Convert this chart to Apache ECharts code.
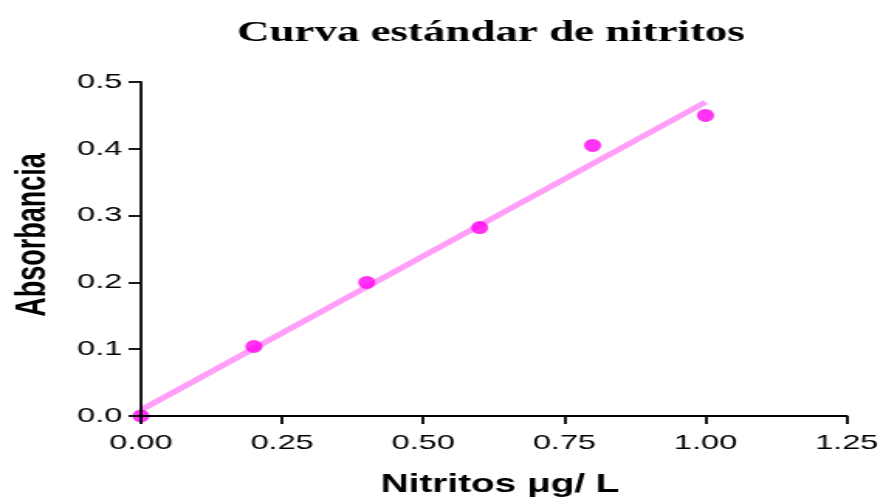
<!DOCTYPE html>
<html>
<head>
<meta charset="utf-8">
<script src="https://cdn.jsdelivr.net/npm/echarts@6/dist/echarts.min.js"></script>
<style>
  html, body { margin: 0; padding: 0; background: #fff; overflow: hidden; }
  #wrap { width: 883px; height: 503px; overflow: hidden; }
  #chart { width: 570px; height: 503px; transform: scaleX(1.5491); transform-origin: 0 0; }
</style>
</head>
<body>
<div id="wrap"><div id="chart"></div></div>
<script>
// Data
const titleText = 'Curva estándar de nitritos';
const xAxisName = 'Nitritos \u03bcg/ L';
const yAxisName = 'Absorbancia';
const concentration = [0, 0.2, 0.4, 0.6, 0.8, 1.0];
const absorbance = [0.0, 0.104, 0.200, 0.282, 0.405, 0.450];
const fitX = [0, 1.0];
const fitY = [0.009, 0.470];
const xMin = 0, xMax = 1.25, xStep = 0.25;
const yMin = 0, yMax = 0.5, yStep = 0.1;

const chart = echarts.init(document.getElementById('chart'), null, { renderer: 'canvas' });

const sans = 'Liberation Sans, Arial, Helvetica, sans-serif';

chart.setOption({
  backgroundColor: '#ffffff',
  animation: false,
  title: {
    text: titleText,
    left: 148,
    top: 14,
    textStyle: { fontFamily: 'Liberation Serif, Times New Roman, serif', fontWeight: 'bold', fontSize: 29, color: '#000' }
  },
  grid: { left: 88, right: 23, top: 82, bottom: 87, containLabel: false },
  xAxis: {
    type: 'value',
    min: xMin, max: xMax, interval: xStep,
    z: 10,
    name: xAxisName,
    nameLocation: 'middle',
    nameGap: 57,
    nameTextStyle: { fontFamily: sans, fontWeight: 'bold', fontSize: 25, color: '#000', padding: [0, 0, 0, 8] },
    axisLine: { show: true, onZero: false, lineStyle: { color: '#000', width: 1.8 } },
    axisTick: { show: true, inside: false, length: 8, lineStyle: { color: '#000', width: 1.8 } },
    axisLabel: {
      margin: 17, fontFamily: sans, fontSize: 21, color: '#000',
      alignMinLabel: 'center', alignMaxLabel: 'center', hideOverlap: false,
      showMinLabel: true, showMaxLabel: true,
      formatter: v => v.toFixed(2)
    },
    splitLine: { show: false }
  },
  yAxis: {
    type: 'value',
    min: yMin, max: yMax, interval: yStep,
    z: 10,
    name: yAxisName,
    nameLocation: 'middle',
    nameGap: 56,
    nameTextStyle: { fontFamily: sans, fontWeight: 'bold', fontSize: 27, color: '#000', padding: [0, 0, 0, 28] },
    axisLine: { show: true, onZero: false, lineStyle: { color: '#000', width: 1.8 } },
    axisTick: { show: true, inside: false, length: 8, lineStyle: { color: '#000', width: 1.8 } },
    axisLabel: {
      margin: 12, fontFamily: sans, fontSize: 21, color: '#000',
      verticalAlignMinLabel: 'middle', verticalAlignMaxLabel: 'middle', hideOverlap: false,
      showMinLabel: true, showMaxLabel: true,
      formatter: v => v.toFixed(1)
    },
    splitLine: { show: false }
  },
  series: [
    {
      type: 'line',
      data: fitX.map((x, i) => [x, fitY[i]]),
      showSymbol: false,
      symbol: 'none',
      z: 1,
      lineStyle: { color: '#ff9ff8', width: 5, cap: 'butt' },
      silent: true
    },
    {
      type: 'scatter',
      data: concentration.map((x, i) => [x, absorbance[i]]),
      symbol: 'circle',
      symbolSize: [11, 13],
      z: 2,
      clip: false,
      itemStyle: { color: '#ff00f0' }
    }
  ]
});
</script>
</body>
</html>
